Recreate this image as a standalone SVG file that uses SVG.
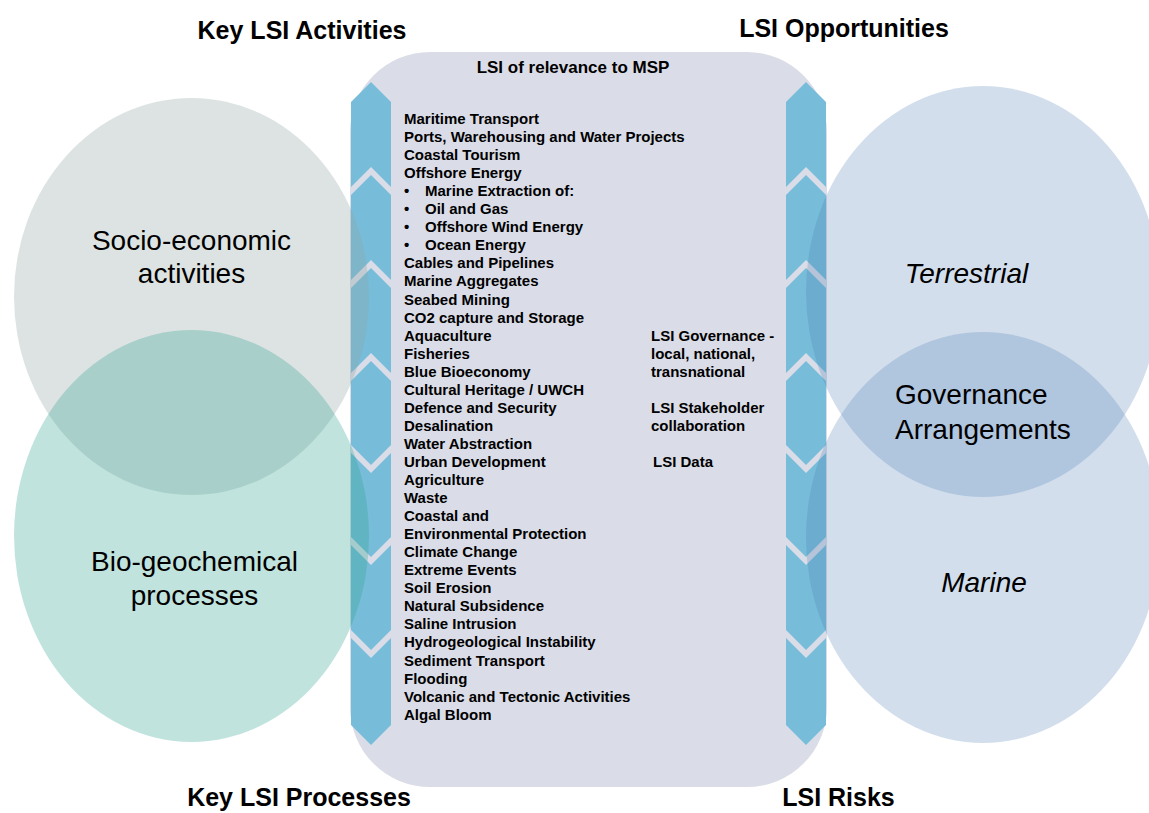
<svg xmlns="http://www.w3.org/2000/svg" xmlns:xlink="http://www.w3.org/1999/xlink" width="1149" height="813" viewBox="0 0 1149 813">
<style>
text{font-family:"Liberation Sans",Arial,sans-serif;fill:#000}
.hd{font-size:25px;font-weight:bold;text-anchor:middle}
.lst{font-size:15px;font-weight:bold}
.ttl{font-size:17px;font-weight:bold;text-anchor:middle}
.big{font-size:28px}
.mid{text-anchor:middle}
.band{fill:#77bdd9}
.stripe{fill:#dadde7}
.eg{fill:#8ea2a2;fill-opacity:0.3}
.eh{fill:#2da28e;fill-opacity:0.3}
.eb{fill:#4c7cb4;fill-opacity:0.25}
</style>
<defs>
<g id="bandShape">
<polygon class="band" points="351,102 371,82 391,102 391,725 371,745 351,725"/>
<polygon class="stripe" points="351,187 371,167 391,187 391,195 371,175 351,195"/>
<polygon class="stripe" points="351,280 371,260 391,280 391,288 371,268 351,288"/>
<polygon class="stripe" points="351,373 371,353 391,373 391,381 371,361 351,381"/>
<polygon class="stripe" points="351,445 371,465 391,445 391,453 371,473 351,453"/>
<polygon class="stripe" points="351,537 371,557 391,537 391,545 371,565 351,545"/>
<polygon class="stripe" points="351,630 371,650 391,630 391,638 371,658 351,638"/>
</g>
</defs>
<rect width="1149" height="813" fill="#ffffff"/>
<g id="center-panel">
<rect x="350" y="52" width="477" height="735" rx="80" ry="80" fill="#dadde7"/>
<text class="ttl" x="573" y="73">LSI of relevance to MSP</text>
</g>
<g id="connectors">
<use xlink:href="#bandShape"/>
<use xlink:href="#bandShape" transform="translate(435,0)"/>
</g>
<g id="socio-economic">
<ellipse class="eg" cx="191.5" cy="296.5" rx="177.5" ry="198.5"/>
<text class="big mid" x="191.5" y="250">Socio-economic</text>
<text class="big mid" x="191.5" y="283">activities</text>
</g>
<g id="bio-geochemical">
<ellipse class="eh" cx="191.5" cy="536" rx="177.5" ry="206"/>
<text class="big mid" x="194.5" y="571">Bio-geochemical</text>
<text class="big mid" x="194.5" y="605">processes</text>
</g>
<g id="terrestrial">
<ellipse class="eb" cx="983" cy="291.5" rx="177" ry="205.5"/>
<text class="big mid" x="966.5" y="283" font-style="italic">Terrestrial</text>
</g>
<g id="marine">
<ellipse class="eb" cx="983" cy="537.5" rx="177" ry="205.5"/>
<text class="big mid" x="984" y="592" font-style="italic">Marine</text>
</g>
<g id="governance">
<text class="big" x="895" y="404">Governance</text>
<text class="big" x="895" y="439">Arrangements</text>
</g>
<g id="lsi-list">
<text class="lst">
<tspan x="404" y="124">Maritime Transport</tspan>
<tspan x="404" y="142.05">Ports, Warehousing and Water Projects</tspan>
<tspan x="404" y="160.1">Coastal Tourism</tspan>
<tspan x="404" y="178.15">Offshore Energy</tspan>
<tspan x="404" y="196.2">•</tspan><tspan x="425" y="196.2">Marine Extraction of:</tspan>
<tspan x="404" y="214.25">•</tspan><tspan x="425" y="214.25">Oil and Gas</tspan>
<tspan x="404" y="232.3">•</tspan><tspan x="425" y="232.3">Offshore Wind Energy</tspan>
<tspan x="404" y="250.35">•</tspan><tspan x="425" y="250.35">Ocean Energy</tspan>
<tspan x="404" y="268.4">Cables and Pipelines</tspan>
<tspan x="404" y="286.45">Marine Aggregates</tspan>
<tspan x="404" y="304.5">Seabed Mining</tspan>
<tspan x="404" y="322.55">CO2 capture and Storage</tspan>
<tspan x="404" y="340.6">Aquaculture</tspan>
<tspan x="404" y="358.65">Fisheries</tspan>
<tspan x="404" y="376.7">Blue Bioeconomy</tspan>
<tspan x="404" y="394.75">Cultural Heritage / UWCH</tspan>
<tspan x="404" y="412.8">Defence and Security</tspan>
<tspan x="404" y="430.85">Desalination</tspan>
<tspan x="404" y="448.9">Water Abstraction</tspan>
<tspan x="404" y="466.95">Urban Development</tspan>
<tspan x="404" y="485">Agriculture</tspan>
<tspan x="404" y="503.05">Waste</tspan>
<tspan x="404" y="521.1">Coastal and</tspan>
<tspan x="404" y="539.15">Environmental Protection</tspan>
<tspan x="404" y="557.2">Climate Change</tspan>
<tspan x="404" y="575.25">Extreme Events</tspan>
<tspan x="404" y="593.3">Soil Erosion</tspan>
<tspan x="404" y="611.35">Natural Subsidence</tspan>
<tspan x="404" y="629.4">Saline Intrusion</tspan>
<tspan x="404" y="647.45">Hydrogeological Instability</tspan>
<tspan x="404" y="665.5">Sediment Transport</tspan>
<tspan x="404" y="683.55">Flooding</tspan>
<tspan x="404" y="701.6">Volcanic and Tectonic Activities</tspan>
<tspan x="404" y="719.65">Algal Bloom</tspan>
</text>
</g>
<g id="lsi-governance-items">
<text class="lst">
<tspan x="651" y="340.6">LSI Governance -</tspan>
<tspan x="651" y="358.65">local, national,</tspan>
<tspan x="651" y="376.7">transnational</tspan>
<tspan x="651" y="412.8">LSI Stakeholder</tspan>
<tspan x="651" y="430.85">collaboration</tspan>
<tspan x="653" y="466.95">LSI Data</tspan>
</text>
</g>
<g id="headers">
<text class="hd" x="302" y="39">Key LSI Activities</text>
<text class="hd" x="844" y="37">LSI Opportunities</text>
<text class="hd" x="299" y="806">Key LSI Processes</text>
<text class="hd" x="838.5" y="806">LSI Risks</text>
</g>
</svg>
